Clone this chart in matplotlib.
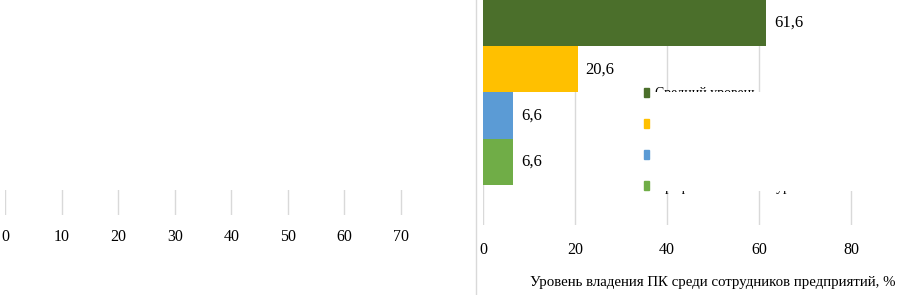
# Horizontal bar chart: PC skill level among enterprise staff
import matplotlib
matplotlib.use('Agg')
import matplotlib.pyplot as plt
from matplotlib.patches import Rectangle

# data
levels = ['Средний уровень', 'Начальный уровень', 'Базовый уровень',
          'Профессиональный уровень']
values = [61.6, 20.6, 6.6, 6.6]
colors = ['#4B6F2B', '#FFC000', '#5B9BD5', '#70AD47']
right_ticks = [0, 20, 40, 60, 80]
left_ticks = [0, 10, 20, 30, 40, 50, 60, 70]
xtext = 'Уровень владения ПК среди сотрудников предприятий, %'

plt.rcParams['font.family'] = ['Liberation Serif', 'DejaVu Serif']
grid_col = '#D9D9D9'

W, H = 898, 295
fig = plt.figure(figsize=(W / 100, H / 100), dpi=100)

def px_axes(x0, y0, x1, y1):
    # pixel box (top-left origin) -> figure axes
    return fig.add_axes([x0 / W, 1 - y1 / H, (x1 - x0) / W, (y1 - y0) / H])

def white_box(x0, y0, x1, y1):
    fig.add_artist(Rectangle((x0 / W, 1 - y1 / H), (x1 - x0) / W,
                             (y1 - y0) / H, transform=fig.transFigure,
                             facecolor='white', edgecolor='none', zorder=10))

# left panel (mostly cut off in the source)
axl = px_axes(5, 190, 450, 215)
axl.set_xlim(0, 445 / 5.657)
axl.set_xticks(left_ticks)
axl.set_yticks([])
axl.grid(axis='x', color=grid_col, linewidth=1)
axl.tick_params(axis='x', length=0, labelsize=11.5, pad=10)
for s in axl.spines.values():
    s.set_visible(False)

# right panel
axr = px_axes(483, 0, 898, 225)
ypos = list(range(len(values)))
axr.barh(ypos, values, height=1.0, color=colors, zorder=2)
for y, v in zip(ypos, values):
    axr.text(v + 1.7, y, f'{v:.1f}'.replace('.', ','), va='center',
             ha='left', fontsize=12)
axr.set_xlim(0, 415 / 4.6)
axr.set_ylim(225 / 46.2 - 0.5, -0.5)
axr.set_xticks(right_ticks)
axr.set_yticks([])
axr.grid(axis='x', color=grid_col, linewidth=1, zorder=0)
axr.tick_params(axis='x', length=0, labelsize=11.5, pad=12)
axr.set_xlabel(xtext, fontsize=10.7)
axr.xaxis.set_label_coords(0.995, -0.225)
axr.xaxis.label.set_ha('right')
axr.xaxis.label.set_va('top')
for s in axr.spines.values():
    s.set_visible(False)

# separator between panels
fig.add_artist(plt.Line2D([476 / W, 476 / W], [0, 1], color=grid_col,
                          linewidth=1))

# legend (largely hidden behind a white patch in the source)
handles = [Rectangle((0, 0), 1, 1, color=c) for c in colors]
leg = fig.legend(handles, levels, loc='upper left',
                 bbox_to_anchor=(631 / W, 1 - 75 / H), frameon=False,
                 fontsize=10, handlelength=0.4, handleheight=0.6,
                 handletextpad=0.4, labelspacing=1.29)
leg.set_zorder(5)
white_box(652, 92, 898, 191)
white_box(815, 0, 898, 92)

plt.savefig('out.png', dpi=100)
